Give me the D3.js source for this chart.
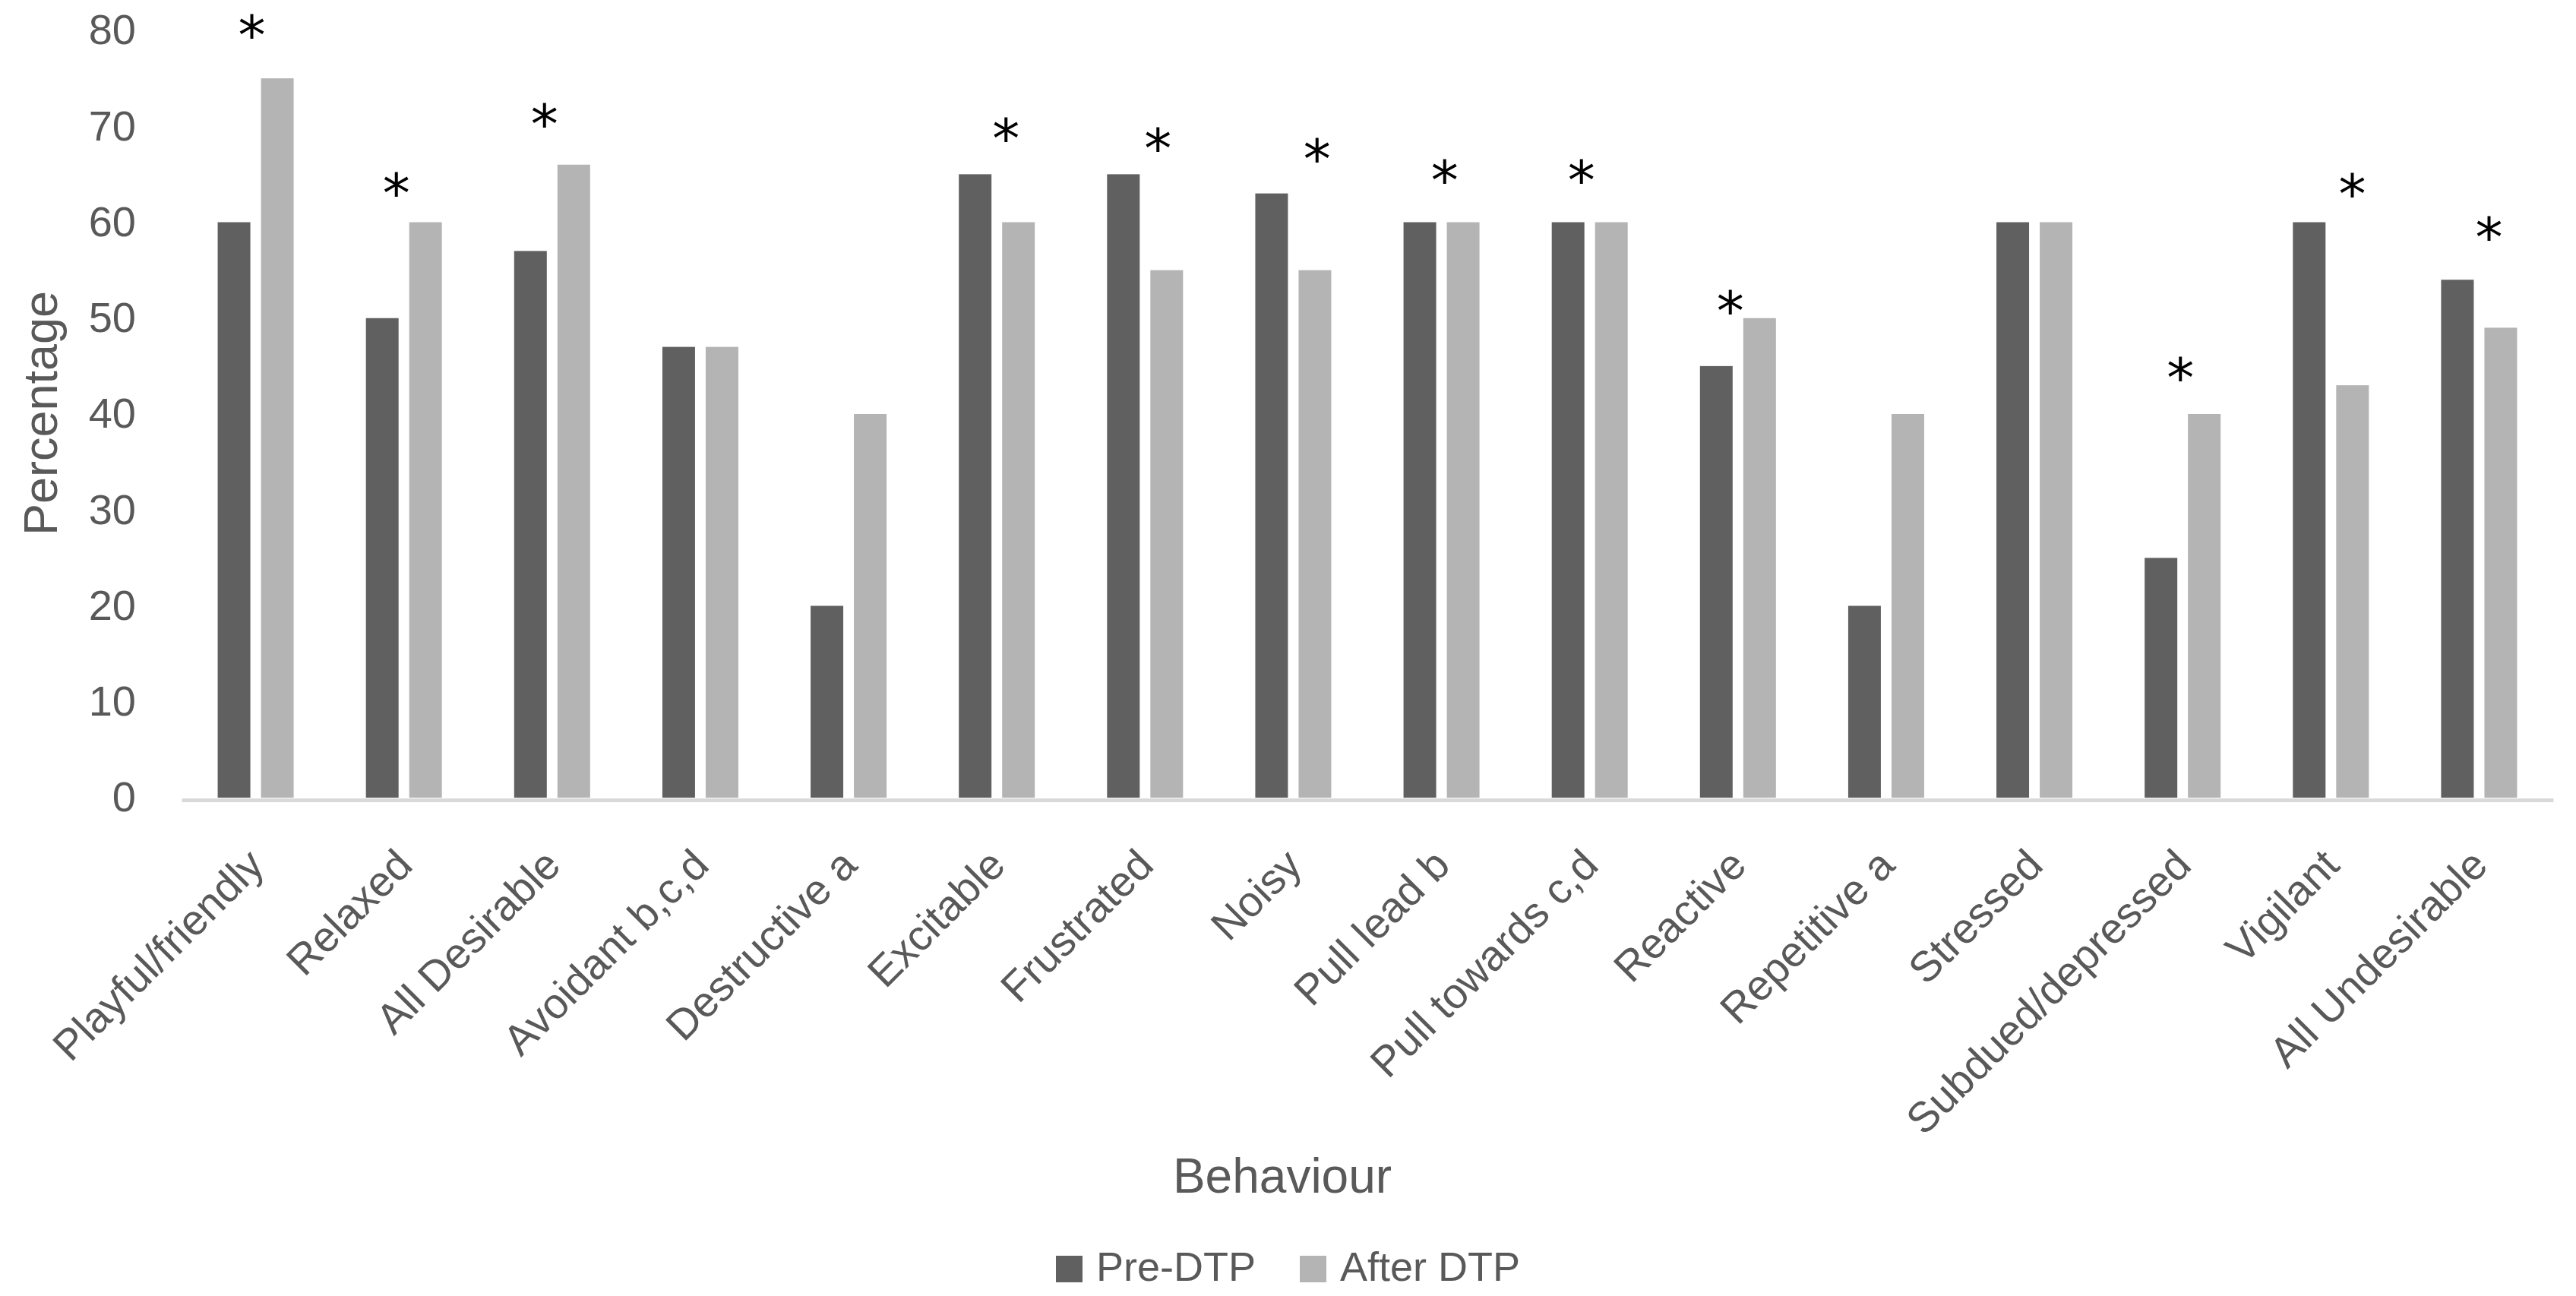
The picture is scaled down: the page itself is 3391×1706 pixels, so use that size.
<!DOCTYPE html>
<html>
<head>
<meta charset="utf-8">
<script src="https://cdn.jsdelivr.net/npm/d3@7"></script>
<style>
  body { margin: 0; background: #fff; }
  text { font-family: "Liberation Sans", Arial, sans-serif; }
</style>
</head>
<body>
<div id="chart"></div>
<script>
const behaviours = ["Playful/friendly", "Relaxed", "All Desirable", "Avoidant b,c,d", "Destructive a",
  "Excitable", "Frustrated", "Noisy", "Pull lead b", "Pull towards c,d", "Reactive", "Repetitive a",
  "Stressed", "Subdued/depressed", "Vigilant", "All Undesirable"]
const preDTP   = [60, 50, 57, 47, 20, 65, 65, 63, 60, 60, 45, 20, 60, 25, 60, 54]
const afterDTP = [75, 60, 66, 47, 40, 60, 55, 55, 60, 60, 50, 40, 60, 40, 43, 49]
const seriesNames = ["Pre-DTP", "After DTP"]
const yTicks = [0, 10, 20, 30, 40, 50, 60, 70, 80]
// significance asterisks: height in percent, null where there is none
const starLevel = [80.2, 63.8, 71, null, null, 69.5, 68.4, 67.3, 65.1, 65.1, 51.5, null, null, 44.5, 63.7, 59.2]
// small sideways nudge of each asterisk, as a share of the category width
const starShift = [-0.026, -0.051, -0.051, 0, 0, 0.062, 0.087, 0.16, 0.021, -0.056, -0.051, 0, 0, -0.015, 0.144, 0.067]

const width = 3391
const height = 1706
const textColor = "#595959"
const colors = d3.scaleOrdinal().domain(seriesNames).range(["#606060", "#b4b4b4"])

const svg = d3.select("#chart")
  .append("svg")
  .attr("width", width)
  .attr("height", height)

const x0 = d3.scaleBand().domain(behaviours).range([239, 3361]).padding(0)
const bw = x0.bandwidth()
const x1 = d3.scaleBand().domain(seriesNames).range([bw / 2 - 50, bw / 2 + 50]).paddingInner(0.246)
const y = d3.scaleLinear().domain([0, 80]).range([1050, 40])

const rows = behaviours.map((b, i) => ({
  name: b,
  values: [
    { key: seriesNames[0], value: preDTP[i] },
    { key: seriesNames[1], value: afterDTP[i] }
  ],
  star: starLevel[i],
  shift: starShift[i]
}))

// y axis labels only, no line
const yAxis = svg.append("g")
  .attr("transform", "translate(239,0)")
  .call(d3.axisLeft(y).tickValues(yTicks).tickSize(0).tickPadding(60))
yAxis.select(".domain").remove()
yAxis.selectAll("text")
  .style("font-size", "56px")
  .attr("fill", textColor)
  .attr("font-family", "Liberation Sans, Arial, sans-serif")

// bars
const groups = svg.selectAll(".cat")
  .data(rows)
  .enter()
  .append("g")
  .attr("class", "cat")
  .attr("transform", d => `translate(${x0(d.name)},0)`)

groups.selectAll("rect")
  .data(d => d.values)
  .enter()
  .append("rect")
  .attr("x", d => x1(d.key))
  .attr("width", x1.bandwidth())
  .attr("y", d => y(d.value))
  .attr("height", d => y(0) - y(d.value))
  .attr("fill", d => colors(d.key))

// x axis
const xAxis = svg.append("g")
  .attr("transform", "translate(0,1053)")
  .call(d3.axisBottom(x0).tickSize(0).tickSizeOuter(0))
xAxis.select(".domain")
  .attr("stroke", "#d9d9d9")
  .attr("stroke-width", 5)
xAxis.selectAll("text")
  .attr("y", 0)
  .attr("dy", 0)
  .attr("transform", "translate(14,89) rotate(-45)")
  .attr("text-anchor", "end")
  .style("font-size", "56px")
  .attr("fill", textColor)
  .attr("font-family", "Liberation Sans, Arial, sans-serif")

// asterisks
svg.selectAll(".star")
  .data(rows.filter(d => d.star !== null))
  .enter()
  .append("text")
  .attr("class", "star")
  .attr("x", d => x0(d.name) + bw / 2 + d.shift * bw)
  .attr("y", d => y(d.star) + 34)
  .attr("text-anchor", "middle")
  .style("font-family", "'DejaVu Sans', sans-serif")
  .style("font-size", "72px")
  .attr("fill", "#000")
  .text("*")

// axis titles
svg.append("text")
  .attr("transform", "translate(75,544) rotate(-90)")
  .attr("text-anchor", "middle")
  .style("font-size", "63px")
  .attr("fill", textColor)
  .text("Percentage")

svg.append("text")
  .attr("x", 1688)
  .attr("y", 1570)
  .attr("text-anchor", "middle")
  .style("font-size", "64px")
  .attr("fill", textColor)
  .text("Behaviour")

// legend
const legendX = [1390, 1711]
const legend = svg.selectAll(".legend")
  .data(seriesNames)
  .enter()
  .append("g")
  .attr("class", "legend")
  .attr("transform", (d, i) => `translate(${legendX[i]},1653)`)

legend.append("rect")
  .attr("width", 35)
  .attr("height", 35)
  .attr("fill", d => colors(d))

legend.append("text")
  .attr("x", 53)
  .attr("y", 33)
  .style("font-size", "54px")
  .attr("fill", textColor)
  .text(d => d)
</script>
</body>
</html>
